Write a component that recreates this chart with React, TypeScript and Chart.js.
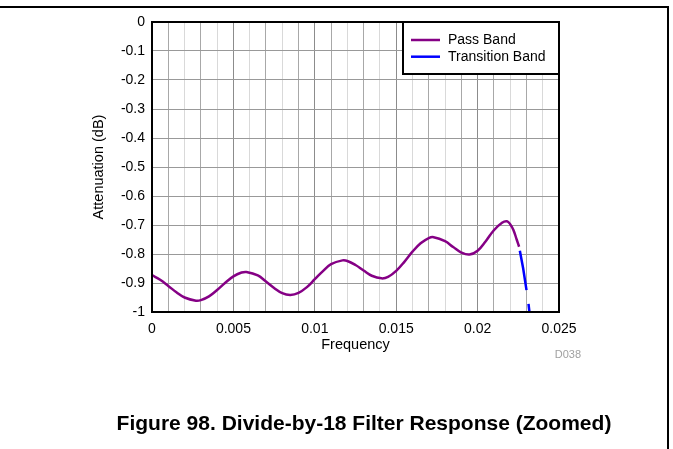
import React, { useEffect, useRef } from "react";
import { Chart, registerables } from "chart.js";

Chart.register(...registerables);

// Pass band (purple) – frequency vs attenuation (dB)
const passFreq = [
  0, 0.0005, 0.001, 0.0015, 0.002, 0.0027, 0.003, 0.0035, 0.004, 0.0045,
  0.005, 0.0055, 0.0058, 0.0065, 0.007, 0.0075, 0.008, 0.0085, 0.009, 0.0095,
  0.01, 0.0105, 0.011, 0.0117, 0.012, 0.0125, 0.013, 0.0135, 0.0141, 0.0145,
  0.015, 0.0155, 0.016, 0.0165, 0.017, 0.0173, 0.018, 0.0185, 0.019, 0.0195,
  0.02, 0.0205, 0.021, 0.0215, 0.0218, 0.022, 0.0222, 0.0224, 0.02255,
];
const passAtten = [
  -0.873, -0.889, -0.91, -0.932, -0.95, -0.961, -0.959, -0.946, -0.924, -0.899,
  -0.877, -0.864, -0.862, -0.874, -0.895, -0.917, -0.935, -0.941, -0.934, -0.915,
  -0.887, -0.859, -0.835, -0.822, -0.824, -0.838, -0.857, -0.875, -0.884, -0.879,
  -0.858, -0.827, -0.792, -0.763, -0.745, -0.742, -0.756, -0.776, -0.795, -0.802,
  -0.789, -0.756, -0.718, -0.692, -0.687, -0.697, -0.717, -0.75, -0.775,
];

// Transition band (blue, dashed)
const transFreq = [0.02255, 0.0228, 0.0231, 0.02325];
const transAtten = [-0.775, -0.85, -0.96, -1.03];

const xTickLabels = ["0", "0.005", "0.01", "0.015", "0.02", "0.025"];
const seriesNames = ["Pass Band", "Transition Band"];
const seriesColors = ["#850085", "#0000ff"];

const FONT = "'Liberation Sans', Arial, sans-serif";

const frameAndLegend = {
  id: "frameAndLegend",
  afterDatasetsDraw(chart: any) {
    const { ctx, chartArea } = chart;
    ctx.save();
    ctx.strokeStyle = "#000";
    ctx.lineWidth = 2;
    ctx.strokeRect(chartArea.left, chartArea.top, chartArea.right - chartArea.left, chartArea.bottom - chartArea.top);

    // legend box in the top-right corner of the plot
    const w = 156;
    const h = 52;
    const bx = chartArea.right - w;
    const by = chartArea.top;
    ctx.fillStyle = "#fff";
    ctx.fillRect(bx, by, w, h);
    ctx.strokeRect(bx, by, w, h);
    ctx.font = `14px ${FONT}`;
    ctx.textBaseline = "middle";
    ctx.textAlign = "left";
    chart.data.datasets.forEach((ds: any, i: number) => {
      const y = by + 18 + i * 16.7;
      ctx.strokeStyle = ds.borderColor;
      ctx.lineWidth = 2.5;
      ctx.beginPath();
      ctx.moveTo(bx + 8, y);
      ctx.lineTo(bx + 37, y);
      ctx.stroke();
      ctx.fillStyle = "#000";
      ctx.fillText(ds.label, bx + 45, y + 0.5);
    });
    ctx.restore();
  },
};

export default function App() {
  const ref = useRef<HTMLCanvasElement | null>(null);

  useEffect(() => {
    if (!ref.current) return;
    const chart = new Chart(ref.current, {
      type: "line",
      data: {
        datasets: [
          {
            label: seriesNames[0],
            data: passFreq.map((f, i) => ({ x: f, y: passAtten[i] })),
            borderColor: seriesColors[0],
            borderWidth: 2.5,
            pointRadius: 0,
            tension: 0.4,
            fill: false,
          },
          {
            label: seriesNames[1],
            data: transFreq.map((f, i) => ({ x: f, y: transAtten[i] })),
            borderColor: seriesColors[1],
            borderWidth: 2.5,
            pointRadius: 0,
            tension: 0,
            borderDash: [40, 14],
            borderDashOffset: 50,
            fill: false,
          },
        ],
      },
      options: {
        animation: false,
        responsive: false,
        devicePixelRatio: 1,
        layout: { padding: { left: 90, top: 22, right: 114, bottom: 95 } },
        plugins: { legend: { display: false }, tooltip: { enabled: false } },
        scales: {
          x: {
            type: "linear",
            min: 0,
            max: 0.025,
            afterFit: (s: any) => {
              s.height = 42;
            },
            border: { display: false },
            grid: {
              drawTicks: false,
              lineWidth: 1,
              color: (c: any) => {
                const k = Math.round((c.tick?.value ?? 0) * 1000);
                if (k % 5 === 0) return "#8c8c8c";
                return k % 2 === 1 ? "#a8a8a8" : "#d9d9d9";
              },
            },
            ticks: {
              stepSize: 0.001,
              autoSkip: false,
              maxTicksLimit: 40,
              maxRotation: 0,
              padding: 9,
              color: "#000",
              font: { family: FONT, size: 14 },
              callback: (v: any) => {
                const k = Math.round(Number(v) * 1000);
                return k % 5 === 0 ? xTickLabels[k / 5] : "";
              },
            },
            title: {
              display: true,
              text: "Frequency",
              color: "#000",
              padding: 0,
              font: { family: FONT, size: 14.5 },
            },
          },
          y: {
            type: "linear",
            min: -1,
            max: 0,
            afterFit: (s: any) => {
              s.width = 62;
            },
            border: { display: false },
            grid: { drawTicks: false, color: "#999", lineWidth: 1 },
            ticks: {
              stepSize: 0.1,
              padding: 7,
              color: "#000",
              font: { family: FONT, size: 14 },
              callback: (v: any) => String(Number(Number(v).toFixed(2))),
            },
            title: {
              display: true,
              text: "Attenuation (dB)",
              color: "#000",
              padding: 0,
              font: { family: FONT, size: 14.5 },
            },
          },
        },
      },
      plugins: [frameAndLegend],
    });
    return () => chart.destroy();
  }, []);

  return (
    <div
      style={{
        position: "fixed",
        left: 0,
        top: 0,
        width: 673,
        height: 449,
        background: "#fff",
        overflow: "hidden",
        fontFamily: FONT,
      }}
    >
      <div style={{ position: "absolute", left: 0, top: 6, width: 669, height: 2, background: "#000" }} />
      <div style={{ position: "absolute", left: 667, top: 6, width: 2, height: 443, background: "#000" }} />
      <canvas
        ref={ref}
        width={673}
        height={449}
        style={{ position: "absolute", left: 0, top: 0, width: 673, height: 449 }}
      />
      <div
        style={{
          position: "absolute",
          left: 540,
          top: 346,
          width: 41,
          textAlign: "right",
          fontSize: 11,
          lineHeight: "16px",
          color: "#a0a0a0",
        }}
      >
        D038
      </div>
      <div
        style={{
          position: "absolute",
          left: 0,
          top: 410,
          width: 728,
          textAlign: "center",
          fontSize: 21,
          fontWeight: "bold",
          lineHeight: "25px",
          color: "#000",
        }}
      >
        Figure 98. Divide-by-18 Filter Response (Zoomed)
      </div>
    </div>
  );
}
